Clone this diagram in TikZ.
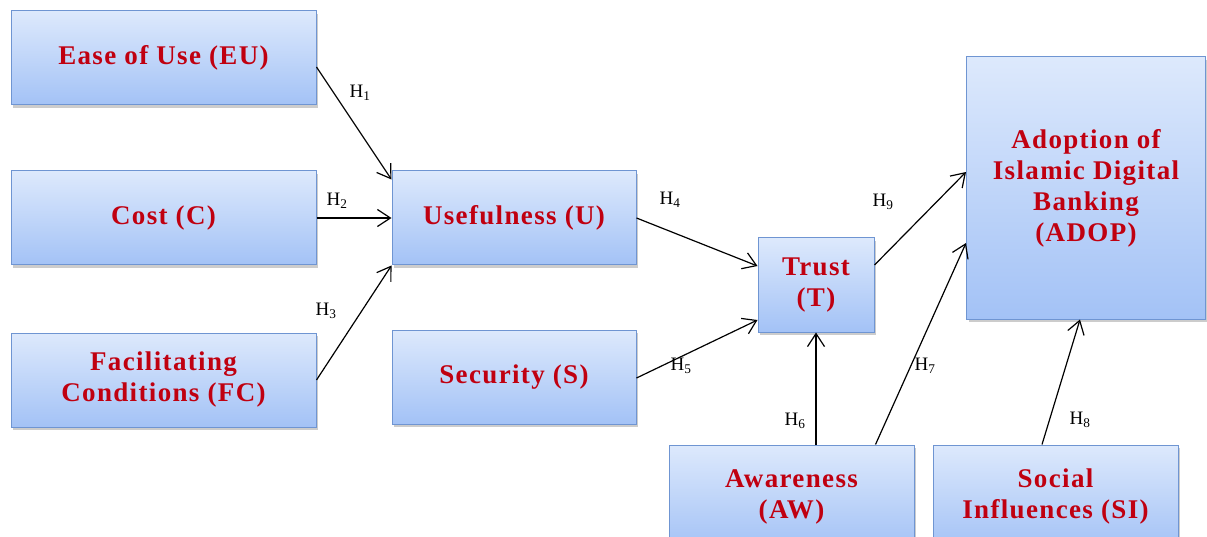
\documentclass[tikz,border=0pt]{standalone}
\usepackage{fontspec}
\setmainfont{Liberation Serif}
\newfontfamily\constructfont[LetterSpace=5]{Liberation Serif}
\usetikzlibrary{arrows.meta,shadows,calc}

\definecolor{boxtop}{HTML}{DDE9FC}
\definecolor{boxbottom}{HTML}{A3C2F6}
\definecolor{boxline}{HTML}{6F95D2}
\definecolor{constructred}{HTML}{C00010}

\tikzset{
  construct/.style={
    rectangle, draw=boxline, line width=1pt,
    top color=boxtop, bottom color=boxbottom,
    drop shadow={shadow xshift=2pt, shadow yshift=-3pt, opacity=0.4},
    inner sep=0pt, align=center,
    text=constructred,
    font=\constructfont\fontsize{27}{31}\selectfont\bfseries
  },
  path/.style={
    draw=black, line width=1.2pt,
    -{Straight Barb[length=13pt,width=17pt,line width=1.2pt]}
  },
  hyp/.style={font=\fontsize{19}{22}\selectfont, inner sep=0pt}
}

\begin{document}
\begin{tikzpicture}[x=1pt,y=-1pt]
  \useasboundingbox (0,0) rectangle (1207,537);

  % constructs
  \node[construct, minimum width=305pt, minimum height=94pt] (eu) at (163.5,58) {Ease of Use (EU)};
  \node[construct, minimum width=305pt, minimum height=94pt] (c)  at (163.5,218) {Cost (C)};
  \node[construct, minimum width=305pt, minimum height=94pt] (fc) at (163.5,380) {Facilitating\\Conditions (FC)};
  \node[construct, minimum width=244pt, minimum height=94pt] (u)  at (514,218) {Usefulness (U)};
  \node[construct, minimum width=244pt, minimum height=94pt] (s)  at (514,377) {Security (S)};
  \node[construct, minimum width=116pt, minimum height=94pt] (t)  at (816,285) {Trust\\(T)};
  \node[construct, minimum width=239pt, minimum height=262pt] (adop) at (1086,188) {Adoption of\\Islamic Digital\\Banking\\(ADOP)};
  \node[construct, minimum width=245pt, minimum height=104pt] (aw) at (791.5,497) {Awareness\\(AW)};
  \node[construct, minimum width=245pt, minimum height=104pt] (si) at (1055.5,497) {Social\\Influences (SI)};

  % hypothesised paths
  \draw[path] ($(eu.east)+(0,9)$) -- ($(u.north west)+(0,9)$);
  \draw[path] (c.east) -- (u.west);
  \draw[path] (fc.east) -- (u.south west);
  \draw[path] (u.east) -- ($(t.west)+(0,-19)$);
  \draw[path] ($(s.east)+(0,1)$) -- ($(t.west)+(0,35)$);
  \draw[path] (t.south |- aw.north) -- (t.south);
  \draw[path] ($(aw.north east)+(-39,0)$) -- ($(adop.west)+(0,55)$);
  \draw[path] ($(si.north)+(-13.5,0)$) -- ($(adop.south)+(-6,0)$);
  \draw[path] ($(t.east)+(0,-20)$) -- ($(adop.west)+(0,-16)$);

  % hypothesis labels
  \node[hyp] (h1) at (360,93)  {H\textsubscript{1}};
  \node[hyp] (h2) at (337,201) {H\textsubscript{2}};
  \node[hyp] (h3) at (326,311) {H\textsubscript{3}};
  \node[hyp] (h4) at (670,200) {H\textsubscript{4}};
  \node[hyp] (h5) at (681,366) {H\textsubscript{5}};
  \node[hyp] (h6) at (795,421) {H\textsubscript{6}};
  \node[hyp] (h7) at (925,366) {H\textsubscript{7}};
  \node[hyp] (h8) at (1080,420) {H\textsubscript{8}};
  \node[hyp] (h9) at (883,202) {H\textsubscript{9}};
\end{tikzpicture}
\end{document}
